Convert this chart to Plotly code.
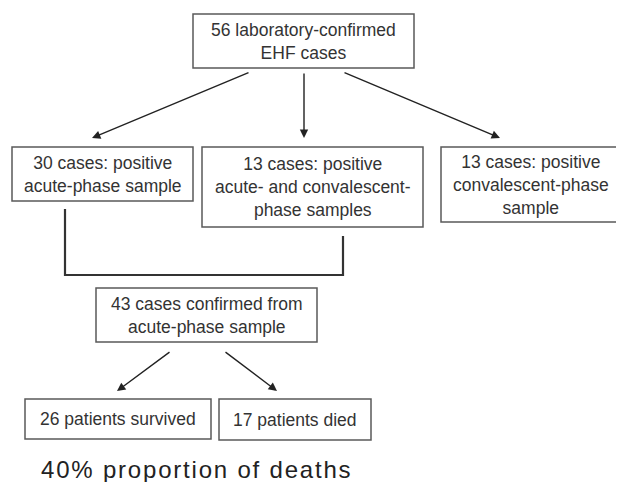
import plotly.graph_objects as go

# Flowchart content
box_texts = [
    "56 laboratory-confirmed<br>EHF cases",
    "30 cases: positive<br>acute-phase sample",
    "13 cases: positive<br>acute- and convalescent-<br>phase samples",
    "13 cases: positive<br>convalescent-phase<br>sample",
    "43 cases confirmed from<br>acute-phase sample",
    "26 patients survived",
    "17 patients died",
]
# box extents (x0, y0, x1, y1) in page-pixel-like layout coordinates
box_x0 = [193, 12, 202, 441, 96, 25, 219]
box_y0 = [14, 147, 147, 147, 288, 399, 399]
box_x1 = [414, 193, 423, 620, 317, 211, 371]
box_y1 = [68, 201, 227, 222, 342, 439, 440]

# arrows: start -> tip
arrow_x0 = [250, 304, 343, 171, 224]
arrow_y0 = [72, 72, 72, 351, 351]
arrow_x1 = [92, 304, 500, 117, 277]
arrow_y1 = [138, 138, 138, 391, 391]

bracket_x = [65, 65, 343, 343]
bracket_y = [209, 275, 275, 236]

footer = "40% proportion of deaths"

# page body has an 8px default margin; offset the axes so coordinates match page pixels
OFF = 8
W, H = 624, 482
fig = go.Figure()
fig.add_trace(go.Scatter(x=[OFF, W], y=[OFF, H], mode="markers",
                         marker=dict(opacity=0), hoverinfo="skip", showlegend=False))

shapes = []
annotations = []
for t, x0, y0, x1, y1 in zip(box_texts, box_x0, box_y0, box_x1, box_y1):
    shapes.append(dict(type="rect", xref="x", yref="y", x0=x0, y0=y0, x1=x1, y1=y1,
                       line=dict(color="#5a5a5a", width=1.5), fillcolor="white", layer="below"))
    annotations.append(dict(x=(x0 + x1) / 2, y=(y0 + y1) / 2, xref="x", yref="y",
                            text=t, showarrow=False, align="center",
                            font=dict(family="Liberation Sans, Arial", size=17.5, color="#333333")))

for sx, sy, ex, ey in zip(arrow_x0, arrow_y0, arrow_x1, arrow_y1):
    annotations.append(dict(x=ex, y=ey, ax=sx, ay=sy, xref="x", yref="y",
                            axref="x", ayref="y", text="", showarrow=True,
                            arrowhead=2, arrowsize=1.2, arrowwidth=1.4, arrowcolor="#222222"))

path = "M " + " L ".join(f"{x},{y}" for x, y in zip(bracket_x, bracket_y))
shapes.append(dict(type="path", xref="x", yref="y", path=path,
                   line=dict(color="#333333", width=2.2)))

annotations.append(dict(x=39, y=469, xref="x", yref="y", xanchor="left", yanchor="middle",
                        text=f'<span style="letter-spacing:1.8px">{footer}</span>', showarrow=False,
                        font=dict(family="Liberation Sans, Arial", size=24, color="#222222")))

fig.update_layout(
    width=W - OFF, height=H - OFF, margin=dict(l=0, r=0, t=0, b=0),
    paper_bgcolor="white", plot_bgcolor="white",
    xaxis=dict(range=[OFF, W], visible=False, fixedrange=True),
    yaxis=dict(range=[H, OFF], visible=False, fixedrange=True),
    shapes=shapes, annotations=annotations, showlegend=False,
)
fig.write_html("out.html")
